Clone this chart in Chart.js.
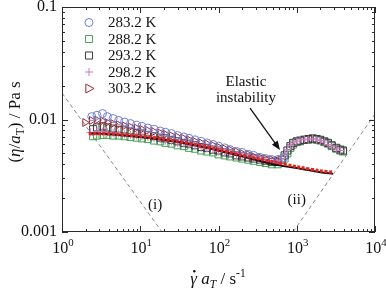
<!DOCTYPE html>
<html>
<head>
<meta charset="utf-8">
<script src="https://cdn.jsdelivr.net/npm/chart.js@4.4.0/dist/chart.umd.min.js"></script>
<style>
html, body { margin: 0; padding: 0; background: #fff; }
</style>
</head>
<body>
<canvas id="chart" width="386" height="294"></canvas>
<script>
// --- dados ---
const x283 = [2.4, 2.8, 3.3, 3.8, 4.5, 5.3, 6.3, 7.5, 9, 10.5, 12.5, 15, 18, 21, 25, 30, 36, 42, 50, 60, 71, 85, 100, 120, 140, 170, 200, 240, 280, 340, 400, 480, 570, 680];
const y283 = [0.0106, 0.0109, 0.0113, 0.0106, 0.0102, 0.0098, 0.0095, 0.0092, 0.0089, 0.0087, 0.0084, 0.0082, 0.0079, 0.0077, 0.0075, 0.0072, 0.0070, 0.0068, 0.0066, 0.0064, 0.0062, 0.0060, 0.0058, 0.0056, 0.0054, 0.0052, 0.0051, 0.0049, 0.0048, 0.0046, 0.0045, 0.0044, 0.0044, 0.0046];

const x288 = [2.5, 2.8, 3.3, 3.8, 4.5, 5.3, 6.3, 7.5, 9, 10.5, 12.5, 15, 18, 21, 25, 30, 36, 42, 50, 60, 71, 85, 100, 120, 140, 170, 200, 240, 280, 340, 400, 480, 570, 640, 700, 760, 830, 900, 1000, 1100, 1250, 1400, 1600, 1800, 2000, 2250, 2500, 2800, 3200, 3600, 3900];
const y288 = [0.0071, 0.0072, 0.0073, 0.0073, 0.0072, 0.0072, 0.0071, 0.0070, 0.0069, 0.0068, 0.0067, 0.0065, 0.0064, 0.0062, 0.0061, 0.0059, 0.0058, 0.0056, 0.0055, 0.0053, 0.0052, 0.0051, 0.0049, 0.0048, 0.0047, 0.0046, 0.0045, 0.0044, 0.0043, 0.0042, 0.0041, 0.0040, 0.0040, 0.0042, 0.0045, 0.0050, 0.0056, 0.0060, 0.0063, 0.0064, 0.0066, 0.0066, 0.0067, 0.0066, 0.0065, 0.0063, 0.0061, 0.0058, 0.0055, 0.0053, 0.0052];

const x293 = [2.5, 2.8, 3.3, 3.8, 4.5, 5.3, 6.3, 7.5, 9, 10.5, 12.5, 15, 18, 21, 25, 30, 36, 42, 50, 60, 71, 85, 100, 120, 140, 170, 200, 240, 280, 340, 400, 480, 570, 640, 700, 760, 830, 900, 1000, 1100, 1250, 1400, 1600, 1800, 2000, 2250, 2500, 2800, 3200, 3600, 3900];
const y293 = [0.0082, 0.0085, 0.0087, 0.0085, 0.0083, 0.0081, 0.0080, 0.0078, 0.0076, 0.0075, 0.0073, 0.0071, 0.0069, 0.0068, 0.0066, 0.0064, 0.0062, 0.0061, 0.0059, 0.0057, 0.0056, 0.0054, 0.0053, 0.0051, 0.0050, 0.0048, 0.0047, 0.0046, 0.0045, 0.0044, 0.0043, 0.0042, 0.0042, 0.0044, 0.0048, 0.0053, 0.0058, 0.0062, 0.0064, 0.0065, 0.0066, 0.0067, 0.0068, 0.0067, 0.0066, 0.0064, 0.0062, 0.0059, 0.0056, 0.0054, 0.0053];

const x298 = [2.3, 2.8, 3.3, 3.8, 4.5, 5.3, 6.3, 7.5, 9, 10.5, 12.5, 15, 18, 21, 25, 30, 36, 42, 50, 60, 71, 85, 100, 120, 140, 170, 200, 240, 280, 340, 400, 480, 570, 640, 700, 760, 830, 900, 1000, 1100, 1250, 1400, 1600, 1800, 2000, 2250, 2500, 2800, 3200, 3600];
const y298 = [0.0077, 0.0078, 0.0078, 0.0077, 0.0076, 0.0075, 0.0074, 0.0073, 0.0072, 0.0071, 0.0070, 0.0068, 0.0067, 0.0065, 0.0064, 0.0062, 0.0061, 0.0059, 0.0058, 0.0056, 0.0055, 0.0054, 0.0052, 0.0051, 0.0050, 0.0048, 0.0047, 0.0046, 0.0045, 0.0044, 0.0043, 0.0043, 0.0043, 0.0045, 0.0049, 0.0054, 0.0059, 0.0062, 0.0064, 0.0066, 0.0067, 0.0066, 0.0068, 0.0066, 0.0065, 0.0063, 0.0060, 0.0058, 0.0055, 0.0053];

const x303 = [1.97, 2.4, 2.8, 3.3, 3.8, 4.5, 5.3, 6.3, 7.5, 9, 10.5, 12.5, 15, 18, 21, 25, 30, 36, 42, 50, 60, 71, 85, 100, 120, 140, 170, 200, 240, 280, 340, 400, 480, 570];
const y303 = [0.0094, 0.0098, 0.0099, 0.0097, 0.0094, 0.0092, 0.0090, 0.0088, 0.0086, 0.0084, 0.0082, 0.0080, 0.0078, 0.0076, 0.0074, 0.0072, 0.0070, 0.0068, 0.0066, 0.0064, 0.0062, 0.0061, 0.0059, 0.0057, 0.0055, 0.0054, 0.0052, 0.0050, 0.0049, 0.0047, 0.0046, 0.0045, 0.0044, 0.0043];

// curvas de ajuste
const xFit = [2.2, 3, 5, 10, 20, 50, 100, 200, 500, 1000, 2000, 2900];
const yFitRed = [0.0075, 0.0075, 0.0074, 0.0071, 0.0067, 0.0060, 0.0054, 0.0048, 0.0042, 0.0038, 0.0035, 0.0034];
const yFitBlack = [0.0075, 0.0075, 0.0073, 0.0070, 0.0066, 0.0059, 0.0053, 0.0047, 0.0040, 0.0037, 0.0034, 0.0033];

// retas de referência (i) e (ii)
const xLineI = [1, 19];
const yLineI = [0.0172, 0.001];
const xLineII = [896, 10000];
const yLineII = [0.001, 0.0112];

// eixos
const xDecades = [0, 1, 2, 3, 4];
const yTickLabels = ['0.001', '0.01', '0.1'];
const yTickValues = [0.001, 0.01, 0.1];

const legendLabels = ['283.2 K', '288.2 K', '293.2 K', '298.2 K', '303.2 K'];

const pts = (xs, ys) => xs.map((x, i) => ({ x: x, y: ys[i] }));

const SERIF = '"Liberation Serif", "DejaVu Serif", serif';

const markerStyles = [
    { style: 'circle', color: '#6b7fd6', r: 4 },
    { style: 'rect', color: '#45a055', r: 5 },
    { style: 'rect', color: '#3a3a3a', r: 5 },
    { style: 'cross', color: '#d47ac6', r: 4 },
    { style: 'triangle', color: '#a3282c', r: 4.5 }
];

function markerDataset(xs, ys, m) {
    return {
        data: pts(xs, ys),
        showLine: false,
        pointStyle: m.style,
        pointRotation: m.style === 'triangle' ? 90 : 0,
        pointRadius: m.r,
        borderColor: m.color,
        backgroundColor: 'rgba(0,0,0,0)',
        borderWidth: 1
    };
}

function drawMarker(ctx, m, x, y) {
    ctx.save();
    ctx.strokeStyle = m.color;
    ctx.lineWidth = 1;
    ctx.beginPath();
    if (m.style === 'circle') {
        ctx.arc(x, y, m.r, 0, Math.PI * 2);
    } else if (m.style === 'rect') {
        const s = m.r * Math.SQRT1_2;
        ctx.rect(x - s, y - s, 2 * s, 2 * s);
    } else if (m.style === 'cross') {
        ctx.moveTo(x - m.r, y); ctx.lineTo(x + m.r, y);
        ctx.moveTo(x, y - m.r); ctx.lineTo(x, y + m.r);
    } else if (m.style === 'triangle') {
        ctx.moveTo(x + m.r * 1.1, y);
        ctx.lineTo(x - m.r * 0.7, y - m.r);
        ctx.lineTo(x - m.r * 0.7, y + m.r);
        ctx.closePath();
    }
    ctx.stroke();
    ctx.restore();
}

// desenha texto com partes em itálico, subscrito e sobrescrito, centrado em cx
function richText(ctx, parts, cx, cy, size) {
    const fontFor = p => {
        const s = (p.sub || p.sup) ? size * 0.68 : size;
        return (p.it ? 'italic ' : '') + s + 'px ' + SERIF;
    };
    let total = 0;
    parts.forEach(p => { ctx.font = fontFor(p); p.w = ctx.measureText(p.t).width; total += p.w; });
    let x = cx - total / 2;
    ctx.textBaseline = 'alphabetic';
    ctx.textAlign = 'left';
    const base = cy + size * 0.32;
    parts.forEach(p => {
        ctx.font = fontFor(p);
        let y = base;
        if (p.sub) y += size * 0.22;
        if (p.sup) y -= size * 0.42;
        ctx.fillText(p.t, x, y);
        if (p.dot) {
            ctx.beginPath();
            ctx.arc(x + p.w * 0.6, base - size * 0.78, 1.2, 0, Math.PI * 2);
            ctx.fill();
        }
        x += p.w;
    });
}

const decorPlugin = {
    id: 'decor',
    afterDraw(chart) {
        const ctx = chart.ctx;
        const a = chart.chartArea;
        const sx = chart.scales.x, sy = chart.scales.y;
        ctx.save();
        ctx.strokeStyle = '#2a2a2a';
        ctx.fillStyle = '#111';
        ctx.lineWidth = 1;
        ctx.strokeRect(Math.round(a.left) + 0.5, Math.round(a.top) + 0.5, Math.round(a.right - a.left) - 1, Math.round(a.bottom - a.top) - 1);

        // marcas dos eixos, voltadas para dentro
        ctx.beginPath();
        xDecades.forEach(d => {
            for (let k = 1; k <= 9; k++) {
                if (d === 4 && k > 1) break;
                const px = Math.round(sx.getPixelForValue(k * Math.pow(10, d))) + 0.5;
                const len = k === 1 ? 6 : 3;
                ctx.moveTo(px, a.bottom); ctx.lineTo(px, a.bottom - len);
                ctx.moveTo(px, a.top); ctx.lineTo(px, a.top + len);
            }
        });
        yTickValues.forEach((v, i) => {
            for (let k = 1; k <= 9; k++) {
                if (i === yTickValues.length - 1 && k > 1) break;
                const py = Math.round(sy.getPixelForValue(k * v)) + 0.5;
                const len = k === 1 ? 6 : 3;
                ctx.moveTo(a.left, py); ctx.lineTo(a.left + len, py);
                ctx.moveTo(a.right, py); ctx.lineTo(a.right - len, py);
            }
        });
        ctx.stroke();

        // rótulos do eixo x (10^n)
        xDecades.forEach(d => {
            const px = sx.getPixelForValue(Math.pow(10, d));
            richText(ctx, [{ t: '10' }, { t: String(d), sup: true }], px + 1, 248, 16);
        });
        // rótulos do eixo y
        ctx.font = '16px ' + SERIF;
        ctx.textAlign = 'right';
        ctx.textBaseline = 'middle';
        yTickValues.forEach((v, i) => {
            ctx.fillText(yTickLabels[i], a.left - 5, sy.getPixelForValue(v));
        });

        // títulos dos eixos
        richText(ctx, [
            { t: 'γ', it: true, dot: true }, { t: ' ' }, { t: 'a', it: true }, { t: 'T', it: true, sub: true },
            { t: ' / s' }, { t: '-1', sup: true }
        ], 218, 279, 17);
        ctx.save();
        ctx.translate(15, 122);
        ctx.rotate(-Math.PI / 2);
        richText(ctx, [
            { t: '(' }, { t: 'η', it: true }, { t: '/' }, { t: 'a', it: true }, { t: 'T', sub: true },
            { t: ') / Pa s' }
        ], 0, 0, 17);
        ctx.restore();

        // legenda
        legendLabels.forEach((lab, i) => {
            const y = 22.5 + i * 16.5;
            drawMarker(ctx, markerStyles[i], 89, y);
            ctx.font = '15px ' + SERIF;
            ctx.textAlign = 'left';
            ctx.textBaseline = 'middle';
            ctx.fillStyle = '#111';
            ctx.fillText(lab, 108, y + 1);
        });

        // anotações
        ctx.font = '15px ' + SERIF;
        ctx.textAlign = 'center';
        ctx.textBaseline = 'middle';
        ctx.fillText('Elastic', sx.getPixelForValue(224), sy.getPixelForValue(0.0216));
        ctx.fillText('instability', sx.getPixelForValue(224), sy.getPixelForValue(0.0155));
        ctx.fillText('(i)', sx.getPixelForValue(15.5), sy.getPixelForValue(0.00174));
        ctx.fillText('(ii)', sx.getPixelForValue(1000), sy.getPixelForValue(0.00192));

        // seta
        const x0 = sx.getPixelForValue(253), y0 = sy.getPixelForValue(0.01265);
        const x1 = sx.getPixelForValue(611), y1 = sy.getPixelForValue(0.00536);
        const ang = Math.atan2(y1 - y0, x1 - x0);
        ctx.strokeStyle = '#111';
        ctx.lineWidth = 1.3;
        ctx.beginPath();
        ctx.moveTo(x0, y0);
        ctx.lineTo(x1 - 6 * Math.cos(ang), y1 - 6 * Math.sin(ang));
        ctx.stroke();
        ctx.beginPath();
        ctx.moveTo(x1, y1);
        ctx.lineTo(x1 - 9 * Math.cos(ang) + 3.5 * Math.sin(ang), y1 - 9 * Math.sin(ang) - 3.5 * Math.cos(ang));
        ctx.lineTo(x1 - 9 * Math.cos(ang) - 3.5 * Math.sin(ang), y1 - 9 * Math.sin(ang) + 3.5 * Math.cos(ang));
        ctx.closePath();
        ctx.fill();
        ctx.restore();
    }
};

new Chart(document.getElementById('chart').getContext('2d'), {
    type: 'scatter',
    data: {
        datasets: [
            { data: pts(xFit, yFitRed), showLine: true, pointRadius: 0, borderColor: '#ee1c1c', borderWidth: 3.2, borderDash: [3, 1.6], tension: 0.3, clip: 0 },
            { data: pts(xFit, yFitBlack), showLine: true, pointRadius: 0, borderColor: '#111', borderWidth: 2, tension: 0.3, clip: 0 },
            markerDataset(x283, y283, markerStyles[0]),
            markerDataset(x303, y303, markerStyles[4]),
            markerDataset(x298, y298, markerStyles[3]),
            markerDataset(x293, y293, markerStyles[2]),
            markerDataset(x288, y288, markerStyles[1]),
            { data: pts(xLineI, yLineI), showLine: true, pointRadius: 0, borderColor: '#8a8a8a', borderWidth: 1, borderDash: [4, 3], clip: 0 },
            { data: pts(xLineII, yLineII), showLine: true, pointRadius: 0, borderColor: '#8a8a8a', borderWidth: 1, borderDash: [4, 3], clip: 0 }
        ]
    },
    options: {
        responsive: false,
        animation: false,
        layout: { padding: { left: 0, right: 11, top: 7, bottom: 0 } },
        plugins: { legend: { display: false }, tooltip: { enabled: false } },
        scales: {
            x: {
                type: 'logarithmic', min: 1, max: 10000,
                ticks: { display: false }, grid: { display: false }, border: { display: false },
                afterFit: s => { s.height = 62; }
            },
            y: {
                type: 'logarithmic', min: 0.001, max: 0.1,
                ticks: { display: false }, grid: { display: false }, border: { display: false },
                afterFit: s => { s.width = 62; }
            }
        }
    },
    plugins: [decorPlugin]
});
</script>
</body>
</html>
